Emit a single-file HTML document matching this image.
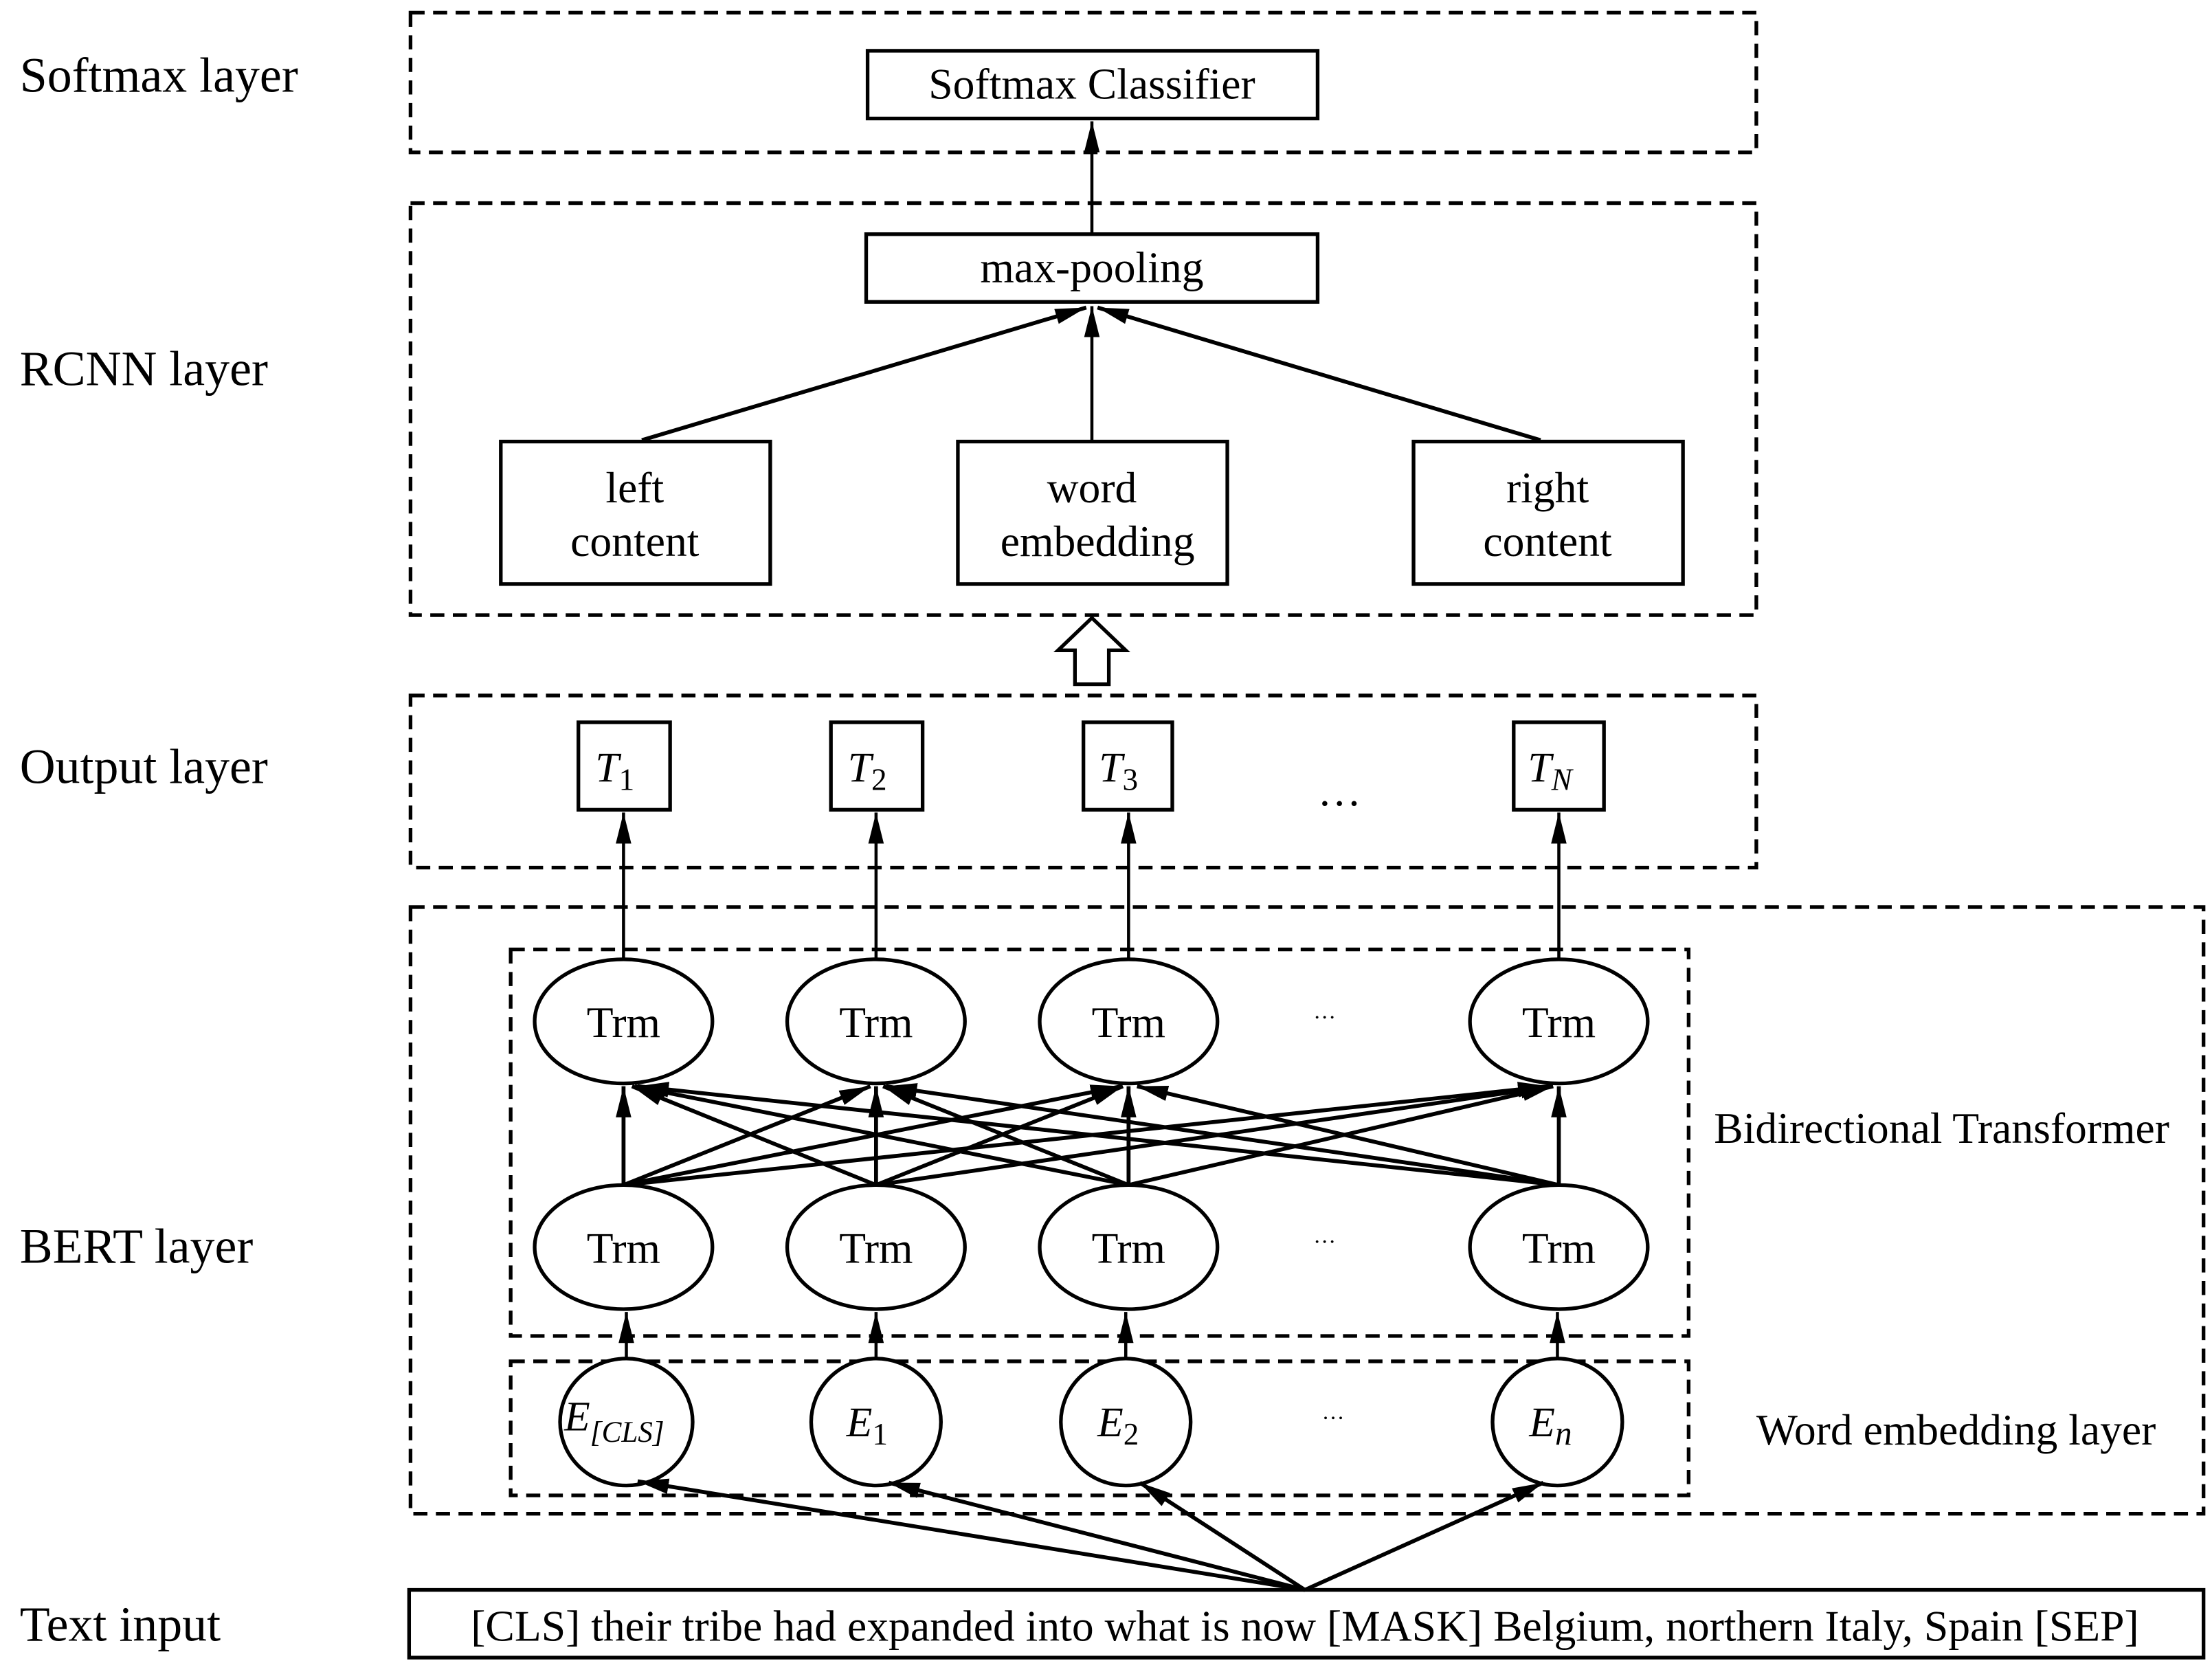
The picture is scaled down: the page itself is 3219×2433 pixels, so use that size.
<!DOCTYPE html>
<html><head><meta charset="utf-8"><style>
html,body{margin:0;padding:0;background:#fff;}
svg{display:block;}
text{font-family:"Liberation Serif",serif;fill:#000;}
</style></head><body>
<svg width="3219" height="2433" viewBox="0 0 1568 1185.2" preserveAspectRatio="none" xmlns="http://www.w3.org/2000/svg">
<defs>
<marker id="b" viewBox="0 0 20 10" refX="20" refY="5" markerWidth="22" markerHeight="12" markerUnits="userSpaceOnUse" orient="auto">
<path d="M0,0 L20,5 L0,10 z" fill="#000"/></marker>
</defs>
<g fill="none" stroke="#000" stroke-width="2.6" stroke-dasharray="10,6">
<rect x="291" y="9" width="954" height="99"/>
<rect x="291" y="144" width="954" height="292"/>
<rect x="291" y="493" width="954" height="122"/>
<rect x="291" y="643" width="1271" height="430"/>
<rect x="362" y="673" width="835" height="274"/>
<rect x="362" y="965" width="835" height="95"/>
</g>
<g fill="#fff" stroke="#000" stroke-width="2.6">
<rect x="615" y="36" width="319" height="48"/>
<rect x="614" y="166" width="320" height="48"/>
<rect x="355" y="313" width="191" height="101"/>
<rect x="679" y="313" width="191" height="101"/>
<rect x="1002" y="313" width="191" height="101"/>
<rect x="410" y="512" width="65" height="62"/>
<rect x="589" y="512" width="65" height="62"/>
<rect x="768" y="512" width="63" height="62"/>
<rect x="1073" y="512" width="64" height="62"/>
<rect x="290" y="1127" width="1272" height="48"/>
</g>
<g stroke="#000" stroke-width="2.2" fill="none">
<line x1="774" y1="166" x2="774" y2="86" marker-end="url(#b)"/>
<line x1="455" y1="312" x2="770" y2="218" stroke-width="2.8" marker-end="url(#b)"/>
<line x1="774" y1="312" x2="774" y2="217" marker-end="url(#b)"/>
<line x1="1092" y1="312" x2="778" y2="218" stroke-width="2.8" marker-end="url(#b)"/>
<line x1="442" y1="680" x2="442" y2="576" marker-end="url(#b)"/>
<line x1="621" y1="680" x2="621" y2="576" marker-end="url(#b)"/>
<line x1="800" y1="680" x2="800" y2="576" marker-end="url(#b)"/>
<line x1="1105" y1="680" x2="1105" y2="576" marker-end="url(#b)"/>
<line x1="444" y1="964" x2="444" y2="930" marker-end="url(#b)"/>
<line x1="621" y1="964" x2="621" y2="930" marker-end="url(#b)"/>
<line x1="798" y1="964" x2="798" y2="930" marker-end="url(#b)"/>
<line x1="1104" y1="964" x2="1104" y2="930" marker-end="url(#b)"/>
</g>
<g stroke="#000" stroke-width="2.8" fill="none">
<line x1="442" y1="840" x2="442" y2="770" marker-end="url(#b)"/>
<line x1="442" y1="840" x2="617" y2="770" marker-end="url(#b)"/>
<line x1="442" y1="840" x2="795" y2="770" marker-end="url(#b)"/>
<line x1="442" y1="840" x2="1098" y2="770" marker-end="url(#b)"/>
<line x1="621" y1="840" x2="448" y2="770" marker-end="url(#b)"/>
<line x1="621" y1="840" x2="621" y2="770" marker-end="url(#b)"/>
<line x1="621" y1="840" x2="796" y2="770" marker-end="url(#b)"/>
<line x1="621" y1="840" x2="1100" y2="770" marker-end="url(#b)"/>
<line x1="800" y1="840" x2="450" y2="770" marker-end="url(#b)"/>
<line x1="800" y1="840" x2="626" y2="770" marker-end="url(#b)"/>
<line x1="800" y1="840" x2="800" y2="770" marker-end="url(#b)"/>
<line x1="800" y1="840" x2="1101" y2="770" marker-end="url(#b)"/>
<line x1="1105" y1="840" x2="452" y2="770" marker-end="url(#b)"/>
<line x1="1105" y1="840" x2="628" y2="770" marker-end="url(#b)"/>
<line x1="1105" y1="840" x2="806" y2="770" marker-end="url(#b)"/>
<line x1="1105" y1="840" x2="1105" y2="770" marker-end="url(#b)"/>
</g>
<g fill="#fff" stroke="#000" stroke-width="2.6">
<ellipse cx="442" cy="724" rx="63" ry="44"/>
<ellipse cx="621" cy="724" rx="63" ry="44"/>
<ellipse cx="800" cy="724" rx="63" ry="44"/>
<ellipse cx="1105" cy="724" rx="63" ry="44"/>
<ellipse cx="442" cy="884" rx="63" ry="44"/>
<ellipse cx="621" cy="884" rx="63" ry="44"/>
<ellipse cx="800" cy="884" rx="63" ry="44"/>
<ellipse cx="1105" cy="884" rx="63" ry="44"/>
<ellipse cx="444" cy="1008" rx="47" ry="45"/>
<ellipse cx="621" cy="1008" rx="46" ry="45"/>
<ellipse cx="798" cy="1008" rx="46" ry="45"/>
<ellipse cx="1104" cy="1008" rx="46" ry="45"/>
</g>
<g stroke="#000" stroke-width="2.8" fill="none">
<line x1="925" y1="1127" x2="452" y2="1050" marker-end="url(#b)"/>
<line x1="925" y1="1127" x2="630" y2="1051" marker-end="url(#b)"/>
<line x1="925" y1="1127" x2="808" y2="1051" marker-end="url(#b)"/>
<line x1="925" y1="1127" x2="1094" y2="1051" marker-end="url(#b)"/>
</g>
<path d="M774,438 L798,461 L786,461 L786,485 L762,485 L762,461 L750,461 Z" fill="#fff" stroke="#000" stroke-width="2.6"/>
<g font-size="35">
<text x="14" y="65">Softmax layer</text>
<text x="14" y="273">RCNN layer</text>
<text x="14" y="555">Output layer</text>
<text x="14" y="895">BERT layer</text>
<text x="14" y="1163">Text input</text>
</g>
<g font-size="31" text-anchor="middle">
<text x="774" y="70">Softmax Classifier</text>
<text x="774" y="200">max-pooling</text>
<text x="450" y="356">left</text><text x="450" y="394">content</text>
<text x="774" y="356">word</text><text x="778" y="394">embedding</text>
<text x="1097" y="356">right</text><text x="1097" y="394">content</text>
<text x="442" y="735">Trm</text><text x="621" y="735">Trm</text><text x="800" y="735">Trm</text><text x="1105" y="735">Trm</text>
<text x="442" y="895">Trm</text><text x="621" y="895">Trm</text><text x="800" y="895">Trm</text><text x="1105" y="895">Trm</text>
<text x="925" y="1163">[CLS] their tribe had expanded into what is now [MASK] Belgium, northern Italy, Spain [SEP]</text>
</g>
<g font-size="30" font-style="italic">
<text x="422" y="554">T<tspan font-size="22" font-style="normal" dy="6">1</tspan></text>
<text x="601" y="554">T<tspan font-size="22" font-style="normal" dy="6">2</tspan></text>
<text x="779" y="554">T<tspan font-size="22" font-style="normal" dy="6">3</tspan></text>
<text x="1083" y="554">T<tspan font-size="22" dy="6">N</tspan></text>
<text x="400" y="1014">E<tspan font-size="21" dy="8">[CLS]</tspan></text>
<text x="600" y="1018">E<tspan font-size="22" font-style="normal" dy="6">1</tspan></text>
<text x="778" y="1018">E<tspan font-size="22" font-style="normal" dy="6">2</tspan></text>
<text x="1084" y="1018">E<tspan font-size="24" dy="6">n</tspan></text>
</g>
<g font-size="31">
<text x="1215" y="810">Bidirectional Transformer</text>
<text x="1245" y="1024">Word embedding layer</text>
<text x="934" y="571">…</text>
</g>
<g font-size="16">
<text x="931" y="722">…</text>
<text x="931" y="881">…</text>
<text x="937" y="1006">…</text>
</g>
</svg>
</body></html>
